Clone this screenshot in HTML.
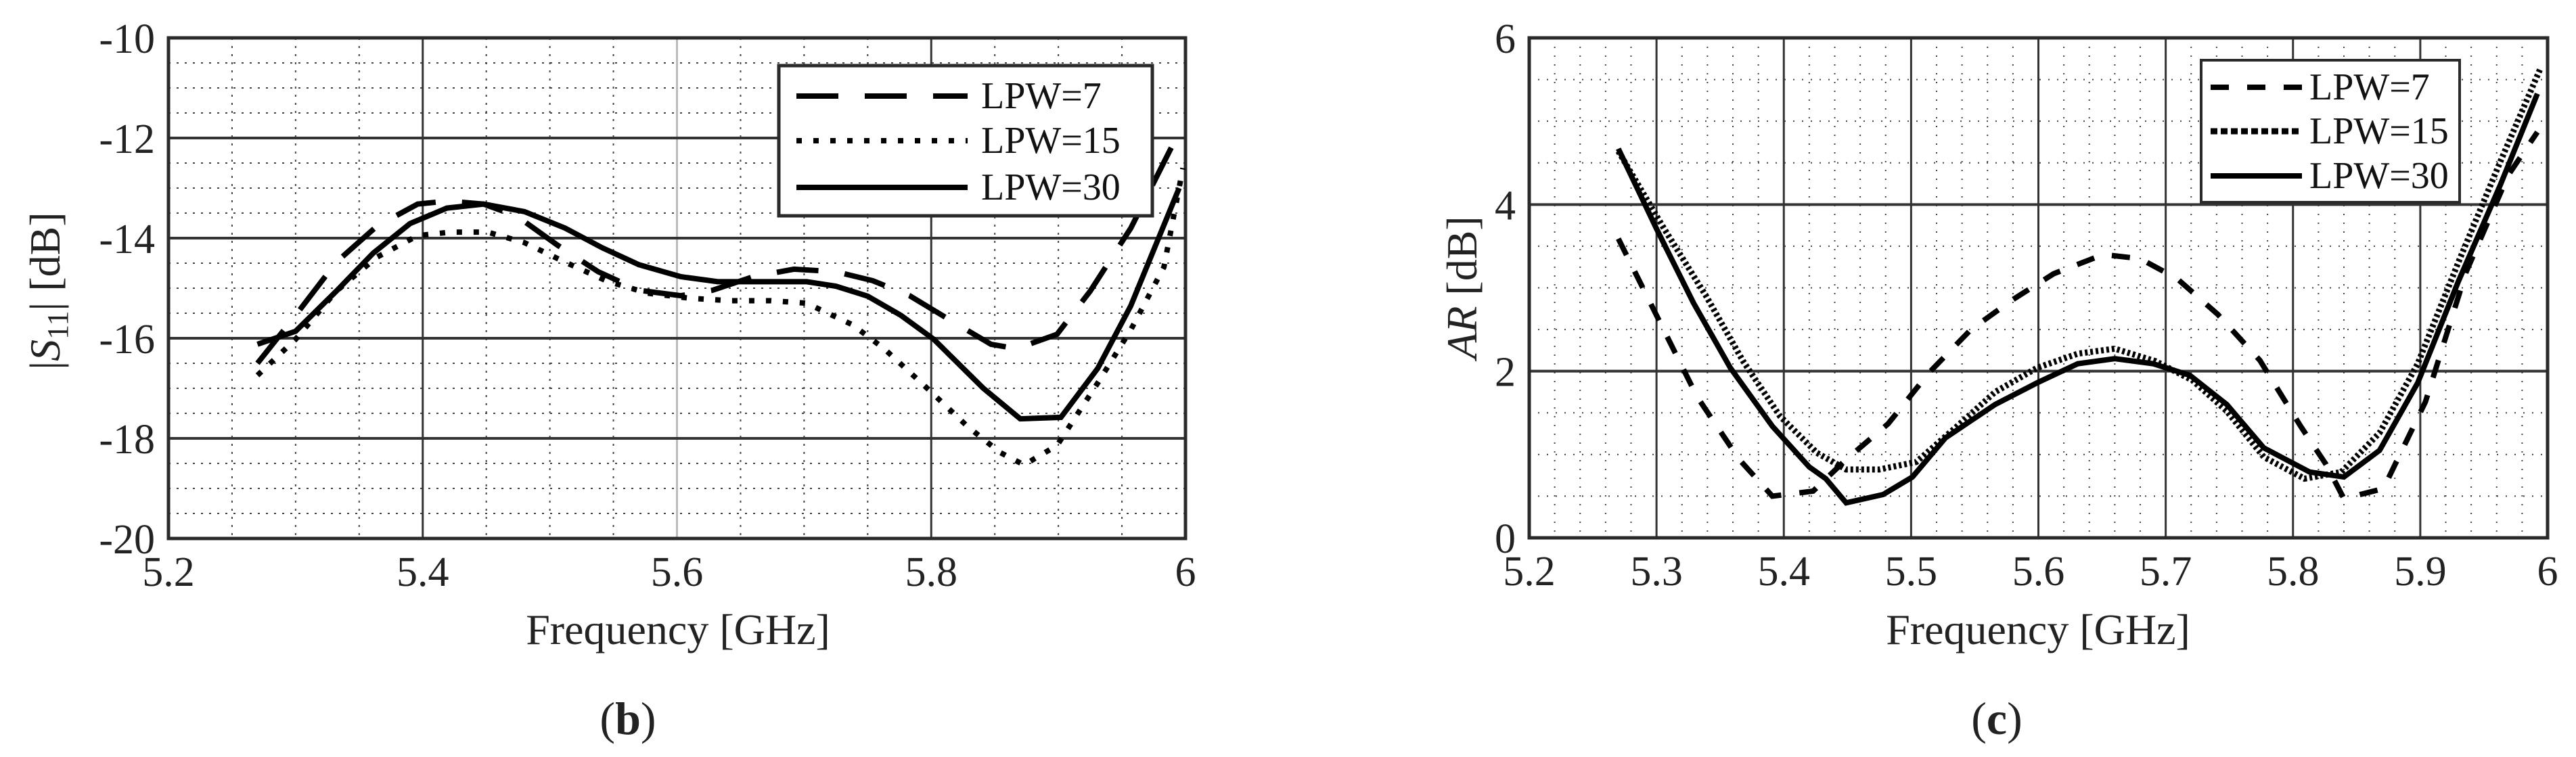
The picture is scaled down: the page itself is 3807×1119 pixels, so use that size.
<!DOCTYPE html>
<html><head><meta charset="utf-8">
<style>
html,body{margin:0;padding:0;background:#fff;}
svg{display:block;font-family:"Liberation Serif",serif;}
</style></head>
<body>
<svg id="fig" width="3807" height="1119" viewBox="0 0 3807 1119" xmlns="http://www.w3.org/2000/svg">
<rect x="0" y="0" width="3807" height="1119" fill="#fff"/>
<g id="chartB"></g>
<g id="chartC"></g>
<text transform="translate(88,430) rotate(-90)" text-anchor="middle" font-size="64" fill="#222">|<tspan font-style="italic">S</tspan><tspan font-size="44" dy="12">11</tspan><tspan dy="-12">| [dB]</tspan></text>
<text x="1002" y="952" text-anchor="middle" font-size="64" fill="#222">Frequency [GHz]</text>
<text x="928" y="1085" text-anchor="middle" font-size="68" fill="#222">(<tspan font-weight="bold">b</tspan>)</text>
<text transform="translate(2182,425) rotate(-90)" text-anchor="middle" font-size="64" fill="#222"><tspan font-style="italic">AR</tspan> [dB]</text>
<text x="3012" y="952" text-anchor="middle" font-size="64" fill="#222">Frequency [GHz]</text>
<text x="2951" y="1085" text-anchor="middle" font-size="68" fill="#222">(<tspan font-weight="bold">c</tspan>)</text>
</svg>
<script>
// ---- Chart (b) data ----
const bFreq7  = [5.27,5.30,5.332,5.364,5.396,5.419,5.448,5.474,5.506,5.538,5.57,5.603,5.628,5.66,5.692,5.725,5.754,5.783,5.815,5.847,5.867,5.899,5.925,5.957,5.998];
const bVal7   = [-16.5,-15.54,-14.48,-13.76,-13.32,-13.26,-13.32,-13.56,-14.14,-14.67,-15.04,-15.15,-15.04,-14.77,-14.62,-14.67,-14.85,-15.15,-15.64,-16.12,-16.21,-15.92,-15.06,-13.8,-11.73];
const bFreq15 = [5.27,5.30,5.332,5.364,5.396,5.422,5.451,5.48,5.512,5.545,5.577,5.61,5.642,5.674,5.702,5.738,5.763,5.796,5.828,5.854,5.873,5.899,5.931,5.957,5.983,5.998];
const bVal15  = [-16.74,-16.02,-15.06,-14.38,-13.95,-13.88,-13.88,-14.09,-14.48,-14.86,-15.1,-15.2,-15.25,-15.25,-15.3,-15.73,-16.21,-16.98,-17.75,-18.28,-18.53,-18.14,-16.89,-15.83,-14.58,-12.6];
const bFreq30 = [5.27,5.30,5.332,5.361,5.39,5.419,5.448,5.48,5.512,5.541,5.57,5.603,5.632,5.667,5.702,5.725,5.75,5.776,5.802,5.841,5.87,5.902,5.931,5.957,5.995];
const bVal30  = [-16.12,-15.86,-15.06,-14.3,-13.71,-13.4,-13.32,-13.47,-13.8,-14.19,-14.53,-14.77,-14.87,-14.87,-14.87,-14.96,-15.16,-15.54,-16.02,-17.0,-17.61,-17.58,-16.6,-15.35,-13.0];
const bXTicks = ["5.2","5.4","5.6","5.8","6"];
const bYTicks = ["-20","-18","-16","-14","-12","-10"];
// ---- Chart (c) data ----
const cFreq7  = [5.27,5.30,5.332,5.365,5.391,5.423,5.449,5.482,5.514,5.547,5.579,5.612,5.651,5.68,5.709,5.741,5.774,5.806,5.826,5.84,5.871,5.904,5.936,5.969,5.992];
const cVal7   = [3.59,2.67,1.69,0.94,0.5,0.56,0.94,1.37,1.98,2.5,2.85,3.17,3.4,3.35,3.11,2.68,2.13,1.34,0.88,0.47,0.59,1.63,3.19,4.35,4.87];
const cFreq15 = [5.27,5.306,5.339,5.368,5.397,5.426,5.449,5.475,5.504,5.534,5.566,5.599,5.631,5.66,5.692,5.721,5.748,5.777,5.809,5.838,5.868,5.898,5.93,5.963,5.994];
const cVal15  = [4.64,3.71,2.9,2.12,1.46,1.02,0.82,0.82,0.91,1.31,1.75,2.04,2.21,2.27,2.12,1.89,1.52,0.97,0.71,0.79,1.26,2.09,3.31,4.52,5.62];
const cFreq30 = [5.27,5.3,5.329,5.358,5.391,5.42,5.433,5.449,5.478,5.501,5.527,5.566,5.599,5.631,5.66,5.69,5.719,5.748,5.777,5.813,5.84,5.868,5.898,5.93,5.963,5.992];
const cVal30  = [4.67,3.71,2.82,2.04,1.34,0.85,0.71,0.42,0.52,0.73,1.2,1.6,1.86,2.09,2.15,2.09,1.95,1.6,1.08,0.79,0.73,1.05,1.86,3.08,4.24,5.33];
const cXTicks = ["5.2","5.3","5.4","5.5","5.6","5.7","5.8","5.9","6"];
const cYTicks = ["0","2","4","6"];
const legendLabels = ["LPW=7","LPW=15","LPW=30"];

const NS="http://www.w3.org/2000/svg";
function mk(tag, attrs, parent){const e=document.createElementNS(NS,tag);for(const k in attrs)e.setAttribute(k,attrs[k]);parent.appendChild(e);return e;}

function drawChart(g, cfg){
  const {L,R,T,B,x0,x1,y0,y1} = cfg;
  const sx = f => L + (f - x0) / (x1 - x0) * (R - L);
  const sy = v => B - (v - y0) / (y1 - y0) * (B - T);
  for(let f=x0; f<=x1+1e-9; f+=cfg.xMinor){
    const l=mk('line',{x1:sx(f),x2:sx(f),y1:T,y2:B,stroke:'#444','stroke-width':2,'stroke-dasharray':cfg.minorDash},g);
    
    
  }
  for(let v=y0; v<=y1+1e-9; v+=cfg.yMinor){
    const l=mk('line',{x1:L,x2:R,y1:sy(v),y2:sy(v),stroke:'#444','stroke-width':2,'stroke-dasharray':cfg.minorDash},g);
    
    
  }
  cfg.xTicks.forEach((t,i)=>{
    const f=parseFloat(t);
    const l=mk('line',{x1:sx(f),x2:sx(f),y1:T,y2:B,stroke:cfg.xMajorColor(f),'stroke-width':3},g);
    
    
    const tx=mk('text',{x:sx(f),y:B+70,'text-anchor':'middle','font-size':62,fill:'#222'},g);
    tx.textContent=t;
    
    
  });
  cfg.yTicks.forEach((t,i)=>{
    const v=parseFloat(t);
    const l=mk('line',{x1:L,x2:R,y1:sy(v),y2:sy(v),stroke:'#333','stroke-width':4},g);
    
    
    const tx=mk('text',{x:L-20,y:sy(v)+22,'text-anchor':'end','font-size':62,fill:'#222'},g);
    tx.textContent=t;
    
    
  });
  const fr=mk('rect',{x:L,y:T,width:R-L,height:B-T,fill:'none',stroke:'#2a2a2a','stroke-width':5},g);
  
  
  cfg.series.forEach((s,i)=>{
    const d=s.f.map((f,j)=>(j?'L':'M')+sx(f).toFixed(1)+' '+sy(s.v[j]).toFixed(1)).join(' ');
    const p=mk('path',{d:d,fill:'none',stroke:'#000','stroke-width':s.w,'stroke-dasharray':s.dash,'stroke-linejoin':'miter'},g);
    
    
  });
  const lg=cfg.legend;
  const box=mk('rect',{x:lg.x,y:lg.y,width:lg.w,height:lg.h,fill:'#fff',stroke:'#2a2a2a','stroke-width':lg.bw},g);
  
  
  cfg.series.forEach((s,i)=>{
    const yy=lg.rows[i];
    const ln=mk('line',{x1:lg.lx1,x2:lg.lx2,y1:yy-lg.off,y2:yy-lg.off,stroke:'#000','stroke-width':s.w,'stroke-dasharray':s.legDash||s.dash},g);
    
    
    const tx=mk('text',{x:lg.tx,y:yy,'font-size':lg.fs,fill:'#111'},g);
    tx.textContent=legendLabels[i];
    
    
  });
}

drawChart(document.getElementById('chartB'),{
  L:249,R:1752,T:56,B:796,x0:5.2,x1:6,y0:-20,y1:-10,
  xMinor:0.05,yMinor:0.5,minorDash:'3 9',
  xMajorColor:f=>Math.abs(f-5.6)<1e-6?'#bbb':'#333',
  xTicks:bXTicks,yTicks:bYTicks,
  series:[
    {name:'lpw7',f:bFreq7,v:bVal7,w:8,dash:'62 39'},
    {name:'lpw15',f:bFreq15,v:bVal15,w:8,dash:'8 17'},
    {name:'lpw30',f:bFreq30,v:bVal30,w:8,dash:'none'}
  ],
  legend:{x:1151,y:97,w:552,h:222,bw:5,lx1:1177,lx2:1430,tx:1450,rows:[160,226,295],off:18,fs:56}
});
drawChart(document.getElementById('chartC'),{
  L:2260,R:3765,T:56,B:795,x0:5.2,x1:6,y0:0,y1:6,
  xMinor:0.02,yMinor:0.5,minorDash:'2 11',
  xMajorColor:f=>'#333',
  xTicks:cXTicks,yTicks:cYTicks,
  series:[
    {name:'lpw7',f:cFreq7,v:cVal7,w:8,dash:'27 27'},
    {name:'lpw15',f:cFreq15,v:cVal15,w:9,dash:'4 4',legDash:'10 5'},
    {name:'lpw30',f:cFreq30,v:cVal30,w:8,dash:'none'}
  ],
  legend:{x:3253,y:89,w:382,h:210,bw:4,lx1:3267,lx2:3402,tx:3413,rows:[147,212,278],off:18,fs:56}
});
</script>
</body></html>
